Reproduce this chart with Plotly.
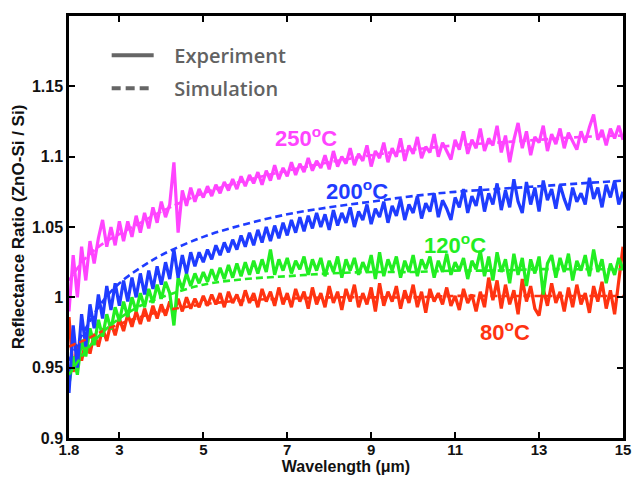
import numpy as np
import plotly.graph_objects as go

# Wavelength sampling grid (um)
WAVELENGTH = np.round(np.arange(18, 151) / 10.0, 1)

R250_EXP = [
    0.990, 1.030, 1.000, 1.036, 1.012, 1.040, 1.024, 1.042, 1.055, 1.036,
    1.050, 1.037, 1.054, 1.040, 1.054, 1.043, 1.058, 1.046, 1.060, 1.049,
    1.064, 1.053, 1.068, 1.057, 1.066, 1.096, 1.046, 1.076, 1.065, 1.078,
    1.068, 1.077, 1.071, 1.079, 1.072, 1.080, 1.074, 1.082, 1.076, 1.084,
    1.077, 1.086, 1.079, 1.087, 1.081, 1.089, 1.080, 1.090, 1.083, 1.094,
    1.084, 1.092, 1.086, 1.096, 1.087, 1.095, 1.089, 1.099, 1.090, 1.097,
    1.092, 1.101, 1.091, 1.104, 1.093, 1.100, 1.095, 1.106, 1.094, 1.102,
    1.097, 1.108, 1.093, 1.104, 1.099, 1.110, 1.096, 1.106, 1.100, 1.113,
    1.097, 1.108, 1.102, 1.114, 1.099, 1.107, 1.103, 1.116, 1.100, 1.110,
    1.104, 1.098, 1.112, 1.105, 1.118, 1.102, 1.112, 1.106, 1.120, 1.104,
    1.113, 1.108, 1.122, 1.103, 1.115, 1.096, 1.112, 1.124, 1.106, 1.118,
    1.101, 1.114, 1.110, 1.122, 1.104, 1.116, 1.109, 1.120, 1.106, 1.117,
    1.111, 1.105, 1.118, 1.110, 1.121, 1.130, 1.112, 1.119, 1.108, 1.120,
    1.113, 1.122, 1.112,
]

R200_EXP = [
    0.932, 0.980, 0.950, 0.988, 0.965, 0.995, 0.978, 1.002, 0.985, 1.008,
    0.991, 1.010, 0.994, 1.012, 0.997, 1.014, 1.000, 1.017, 1.002, 1.019,
    1.006, 1.022, 1.009, 1.025, 1.013, 1.034, 1.014, 1.030, 1.017, 1.032,
    1.022, 1.032, 1.025, 1.034, 1.027, 1.037, 1.030, 1.039, 1.032, 1.041,
    1.034, 1.044, 1.036, 1.046, 1.037, 1.048, 1.039, 1.050, 1.040, 1.051,
    1.042, 1.053, 1.044, 1.055, 1.046, 1.057, 1.047, 1.058, 1.049, 1.060,
    1.050, 1.059, 1.048, 1.062, 1.051, 1.060, 1.053, 1.064, 1.050, 1.061,
    1.055, 1.066, 1.052, 1.063, 1.057, 1.068, 1.053, 1.065, 1.058, 1.070,
    1.055, 1.066, 1.060, 1.072, 1.056, 1.067, 1.061, 1.074, 1.057, 1.069,
    1.063, 1.055, 1.071, 1.064, 1.077, 1.060, 1.072, 1.065, 1.079, 1.061,
    1.074, 1.066, 1.081, 1.062, 1.076, 1.064, 1.084, 1.068, 1.060, 1.082,
    1.066, 1.078, 1.061, 1.083, 1.069, 1.077, 1.063, 1.080, 1.070, 1.062,
    1.078, 1.068, 1.074, 1.066, 1.085, 1.070, 1.078, 1.064, 1.080, 1.071,
    1.083, 1.066, 1.075,
]

R120_EXP = [
    0.938, 0.958, 0.945, 0.970, 0.958, 0.978, 0.966, 0.984, 0.972, 0.988,
    0.977, 0.993, 0.983, 0.997, 0.986, 1.000, 0.990, 1.003, 0.993, 1.006,
    0.996, 1.009, 0.999, 1.011, 1.003, 0.980, 1.014, 1.006, 1.017, 1.008,
    1.017, 1.010, 1.018, 1.011, 1.020, 1.012, 1.021, 1.013, 1.023, 1.014,
    1.024, 1.015, 1.025, 1.016, 1.026, 1.017, 1.027, 1.018, 1.034, 1.016,
    1.027, 1.019, 1.028, 1.017, 1.026, 1.020, 1.029, 1.016, 1.027, 1.019,
    1.028, 1.015, 1.026, 1.018, 1.029, 1.014, 1.027, 1.019, 1.028, 1.016,
    1.025, 1.018, 1.030, 1.013, 1.032, 1.015, 1.027, 1.019, 1.029, 1.014,
    1.026, 1.018, 1.030, 1.015, 1.027, 1.020, 1.029, 1.014, 1.026, 1.018,
    1.031, 1.016, 1.025, 1.019, 1.028, 1.013, 1.026, 1.020, 1.033, 1.015,
    1.029, 1.012, 1.032, 1.018, 1.027, 1.010, 1.031, 1.016, 1.028, 1.008,
    1.027, 1.017, 1.029, 1.002, 1.024, 1.030, 1.014, 1.028, 1.018, 1.031,
    1.012, 1.026, 1.019, 1.030, 1.015, 1.034, 1.018, 1.027, 1.010, 1.024,
    1.016, 1.028, 1.020,
]

R80_EXP = [
    0.986, 0.947, 0.966, 0.955, 0.969, 0.960, 0.974, 0.965, 0.978, 0.969,
    0.982, 0.973, 0.985, 0.976, 0.988, 0.979, 0.990, 0.981, 0.992, 0.983,
    0.994, 0.985, 0.995, 0.987, 0.997, 0.988, 0.999, 0.990, 1.000, 0.992,
    0.999, 0.993, 1.001, 0.994, 1.002, 0.995, 1.003, 0.993, 1.004, 0.996,
    1.002, 0.994, 1.005, 0.996, 1.003, 0.993, 1.006, 0.997, 1.004, 0.994,
    1.007, 0.995, 1.003, 0.993, 1.006, 0.997, 1.004, 0.992, 1.007, 0.995,
    1.003, 0.993, 1.008, 0.996, 1.004, 0.991, 1.006, 0.997, 1.009, 0.993,
    1.003, 0.995, 1.007, 0.990, 1.010, 0.994, 1.004, 0.997, 1.008, 0.992,
    1.005, 0.996, 1.009, 0.993, 1.004, 0.989, 1.006, 0.997, 1.003, 0.995,
    1.007, 0.994, 1.001, 0.991, 1.006, 0.996, 1.002, 0.990, 1.004, 0.993,
    1.014, 0.998, 1.012, 0.992, 1.009, 0.995, 1.005, 0.988, 1.013, 0.997,
    1.008, 0.992, 0.987, 1.006, 0.994, 1.010, 0.996, 1.004, 0.990, 1.007,
    0.993, 1.009, 0.995, 1.003, 0.989, 1.008, 0.997, 1.011, 0.992, 1.005,
    0.988, 1.012, 1.036,
]

# Simulation curves (coarser sampling)
SIM_X = [1.8, 2.2, 2.6, 3.0, 3.5, 4.0, 5.0, 6.0, 7.0, 8.0, 9.0, 10.0, 11.0, 12.0, 13.0, 14.0, 15.0]
R250_SIM = [1.012, 1.028, 1.038, 1.045, 1.053, 1.061, 1.074, 1.083, 1.090, 1.096, 1.101, 1.105, 1.108, 1.110, 1.112, 1.114, 1.115]
R200_SIM = [0.955, 0.978, 0.997, 1.010, 1.021, 1.030, 1.043, 1.052, 1.059, 1.064, 1.068, 1.072, 1.075, 1.077, 1.079, 1.081, 1.083]
R120_SIM = [0.945, 0.962, 0.975, 0.985, 0.994, 1.000, 1.009, 1.013, 1.015, 1.017, 1.018, 1.018, 1.019, 1.019, 1.020, 1.020, 1.020]
R80_SIM = [0.965, 0.970, 0.976, 0.981, 0.986, 0.990, 0.995, 0.998, 0.999, 1.000, 1.000, 1.000, 1.001, 1.001, 1.001, 1.001, 1.001]

LABELS = ["80<sup>o</sup>C", "120<sup>o</sup>C", "200<sup>o</sup>C", "250<sup>o</sup>C"]
LABEL_X = [12.18, 10.99, 8.66, 7.44]
LABEL_Y = [0.976, 1.038, 1.0766, 1.1137]
COLORS = ["#ff3311", "#22ee22", "#1f3cff", "#ff44ff"]

X_TICKS = [1.8, 3, 5, 7, 9, 11, 13, 15]
Y_TICKS = [0.9, 0.95, 1.0, 1.05, 1.1, 1.15]
Y_TICK_TEXT = ["0.9", "0.95", "1", "1.05", "1.1", "1.15"]

exp_series = [R80_EXP, R120_EXP, R200_EXP, R250_EXP]
sim_series = [R80_SIM, R120_SIM, R200_SIM, R250_SIM]

fig = go.Figure()
for ys, c in zip(exp_series, COLORS):
    fig.add_trace(go.Scatter(x=WAVELENGTH, y=ys, mode="lines",
                             line=dict(color=c, width=3.2), showlegend=False,
                             hoverinfo="skip"))
for ys, c in zip(sim_series, COLORS):
    fig.add_trace(go.Scatter(x=SIM_X, y=ys, mode="lines",
                             line=dict(color=c, width=2.6, dash="7px,4px", shape="spline"),
                             showlegend=False, hoverinfo="skip"))

# legend entries
fig.add_trace(go.Scatter(x=[None], y=[None], mode="lines", name="\u00a0\u00a0\u00a0Experiment",
                         legendgroup="a", line=dict(color="#666666", width=4)))
fig.add_trace(go.Scatter(x=[None], y=[None], mode="lines", name="\u00a0\u00a0\u00a0Simulation",
                         legendgroup="b", line=dict(color="#666666", width=4, dash="9px,5px")))

for t, x, y, c in zip(LABELS, LABEL_X, LABEL_Y, COLORS):
    fig.add_annotation(x=x, y=y, text=t, showarrow=False,
                       font=dict(family="Liberation Sans", size=22, color=c, weight="bold"))

axis_common = dict(showline=True, linecolor="black", linewidth=2.5, mirror="allticks",
                   ticks="inside", ticklen=6, tickwidth=2, tickcolor="black",
                   showgrid=False, zeroline=False, automargin=False)

fig.update_xaxes(range=[1.8, 15], tickvals=X_TICKS, ticktext=[str(v) for v in X_TICKS],
                 ticklabelstandoff=-4,
                 tickfont=dict(family="Liberation Sans", size=15, color="#111", weight="bold"),
                 title=dict(text="Wavelength (\u03bcm)", standoff=2,
                            font=dict(family="Liberation Sans", size=16, color="#111", weight="bold")),
                 **axis_common)
fig.update_yaxes(range=[0.9, 1.2], tickvals=Y_TICKS, ticktext=Y_TICK_TEXT,
                 tickfont=dict(family="Liberation Sans", size=16, color="#111", weight="bold"),
                 title=dict(text="Reflectance Ratio (ZnO-Si / Si)", standoff=3,
                            font=dict(family="Liberation Sans", size=17, color="#111", weight="bold")),
                 **axis_common)

fig.update_layout(
    width=635, height=477,
    margin=dict(l=69, r=12, t=16, b=39),
    plot_bgcolor="white", paper_bgcolor="white",
    legend=dict(x=0.068, y=0.953, xanchor="left", yanchor="top", itemwidth=42,
                bgcolor="rgba(0,0,0,0)", tracegroupgap=4,
                font=dict(family="Open Sans", size=20, color="#626262", weight=600)),
)

fig.write_html("out.html", config={"displayModeBar": False},
               post_script="document.body.style.margin='0px';")
